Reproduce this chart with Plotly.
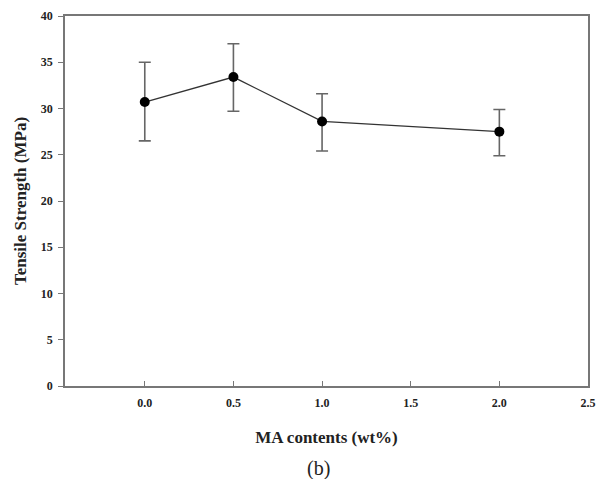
import plotly.graph_objects as go

ma_content = [0.0, 0.5, 1.0, 2.0]
tensile_strength = [30.7, 33.4, 28.6, 27.5]
err_plus = [4.3, 3.6, 3.0, 2.4]
err_minus = [4.2, 3.7, 3.2, 2.6]

x_ticks = [0.0, 0.5, 1.0, 1.5, 2.0, 2.5]
x_ticklabels = ["0.0", "0.5", "1.0", "1.5", "2.0", "2.5"]
y_ticks = [0, 5, 10, 15, 20, 25, 30, 35, 40]
y_ticklabels = ["0", "5", "10", "15", "20", "25", "30", "35", "40"]

font_family = "Liberation Serif, Times New Roman, serif"

fig = go.Figure()
fig.add_trace(go.Scatter(
    x=ma_content, y=tensile_strength,
    mode="lines+markers",
    line=dict(color="#333333", width=1.3),
    marker=dict(color="black", size=10),
    error_y=dict(type="data", symmetric=False, array=err_plus, arrayminus=err_minus,
                 color="#666666", thickness=1.6, width=6),
    showlegend=False,
))

axis_common = dict(
    showline=True, linecolor="#777777", linewidth=1.5, mirror=True,
    showgrid=False, zeroline=False,
    tickcolor="#777777", ticklen=5, tickwidth=1.2,
    tickfont=dict(family=font_family, size=12, color="#222222"),
    ticklabeloverflow="allow",
)

fig.update_layout(
    width=601, height=471,
    margin=dict(l=57, r=21, t=8, b=93, autoexpand=False),
    paper_bgcolor="white", plot_bgcolor="white",
    xaxis=dict(range=[-0.45, 2.5], tickvals=x_ticks,
               ticktext=["<b>%s</b>" % t for t in x_ticklabels],
               ticks="inside", ticklabelstandoff=5,
               title=dict(text="<b>MA contents (wt%)</b>",
                          font=dict(family=font_family, size=17, color="#222222"),
                          standoff=22),
               **axis_common),
    yaxis=dict(range=[0, 40], tickvals=y_ticks,
               ticktext=["<b>%s</b>" % t for t in y_ticklabels],
               ticks="outside", ticklabelstandoff=3,
               title=dict(text="<b>Tensile Strength (MPa)</b>",
                          font=dict(family=font_family, size=17, color="#222222"),
                          standoff=10),
               **axis_common),
    font=dict(family=font_family),
)

fig.add_annotation(text="(b)", xref="paper", yref="paper", x=0.485, y=-0.222,
                   showarrow=False, font=dict(family=font_family, size=20, color="#222222"),
                   xanchor="center", yanchor="middle")

fig.write_html("out.html")
